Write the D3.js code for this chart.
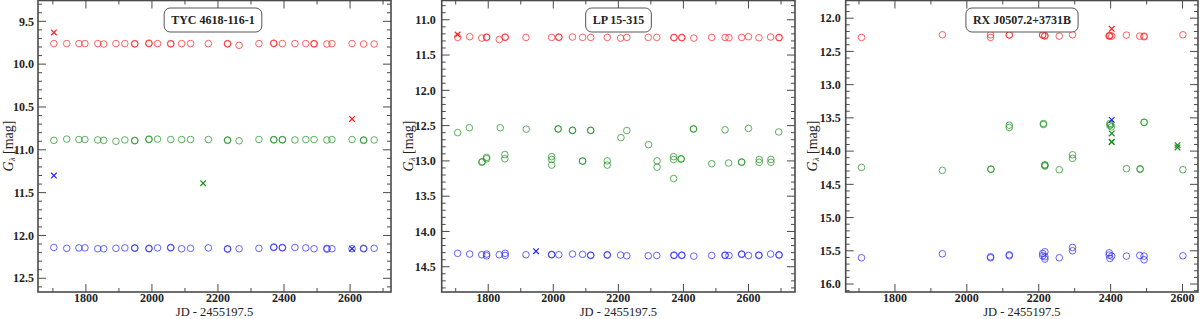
<!DOCTYPE html>
<html>
<head>
<meta charset="utf-8">
<script src="https://cdn.jsdelivr.net/npm/d3@7"></script>
<style>
  body { margin: 0; background: #fff; }
  svg { display: block; font-family: "Liberation Serif", "DejaVu Serif", serif; }
</style>
</head>
<body>
<div id="chart"></div>
<script>
// ---- data: [JD - 2455197.5, G mag] ----
const tycRed = [[1703,9.76],[1742,9.76],[1779,9.76],[1797,9.76],[1836,9.76],[1854,9.765],[1891,9.76],[1918,9.76],[1948,9.765],[1948,9.76],[1991,9.76],[1991,9.755],[2017,9.76],[2057,9.76],[2057,9.765],[2090,9.76],[2117,9.76],[2171,9.76],[2229,9.76],[2229,9.765],[2264,9.78],[2324,9.76],[2369,9.76],[2369,9.755],[2395,9.76],[2433,9.76],[2466,9.76],[2491,9.76],[2491,9.765],[2530,9.765],[2545,9.76],[2606,9.76],[2641,9.765],[2673,9.765]]
const tycGreen = [[1703,10.89],[1742,10.875],[1779,10.88],[1797,10.88],[1836,10.885],[1854,10.89],[1891,10.9],[1918,10.885],[1948,10.89],[1948,10.895],[1991,10.875],[1991,10.88],[2017,10.875],[2057,10.88],[2090,10.88],[2117,10.88],[2171,10.88],[2229,10.885],[2229,10.89],[2264,10.895],[2324,10.88],[2369,10.885],[2369,10.88],[2395,10.885],[2395,10.88],[2433,10.885],[2466,10.88],[2491,10.88],[2530,10.885],[2545,10.88],[2606,10.88],[2641,10.885],[2641,10.89],[2673,10.885]]
const tycBlue = [[1703,12.14],[1742,12.15],[1779,12.145],[1797,12.145],[1836,12.155],[1854,12.155],[1891,12.15],[1918,12.145],[1948,12.145],[1948,12.15],[1991,12.15],[1991,12.155],[2017,12.145],[2057,12.14],[2057,12.145],[2090,12.155],[2117,12.15],[2171,12.145],[2229,12.155],[2229,12.16],[2264,12.155],[2324,12.15],[2369,12.14],[2369,12.135],[2395,12.145],[2395,12.14],[2433,12.14],[2466,12.145],[2491,12.155],[2530,12.16],[2530,12.15],[2545,12.155],[2606,12.155],[2641,12.155],[2641,12.15],[2673,12.15]]
const tycRedX = [[1703,9.63],[2606,10.64]]
const tycGreenX = [[2155,11.39]]
const tycBlueX = [[1703,11.3],[2606,12.155]]

const lpRed = [[1706,11.25],[1743,11.24],[1780,11.26],[1795,11.25],[1795,11.245],[1834,11.28],[1852,11.25],[1852,11.245],[1916,11.25],[1995,11.25],[2017,11.25],[2017,11.245],[2059,11.245],[2090,11.25],[2115,11.25],[2166,11.25],[2207,11.26],[2226,11.25],[2292,11.25],[2318,11.25],[2371,11.25],[2371,11.255],[2395,11.25],[2395,11.255],[2432,11.26],[2487,11.25],[2528,11.25],[2540,11.255],[2579,11.25],[2600,11.24],[2632,11.255],[2668,11.245],[2694,11.25],[2694,11.255]]
const lpGreen = [[1706,12.6],[1742,12.53],[1780,13.02],[1782,13.01],[1795,12.95],[1795,12.97],[1837,12.53],[1851,12.91],[1851,12.97],[1917,12.55],[1995,12.94],[1995,12.98],[1995,13.06],[2015,12.55],[2015,12.545],[2059,12.57],[2059,12.565],[2090,13.0],[2090,13.005],[2115,12.57],[2115,12.565],[2166,13.0],[2166,13.06],[2208,12.67],[2226,12.57],[2293,12.77],[2319,13.0],[2319,13.09],[2370,12.94],[2370,12.98],[2370,13.25],[2393,12.97],[2393,12.975],[2431,12.55],[2431,12.545],[2487,13.04],[2528,12.56],[2539,13.03],[2579,13.02],[2579,13.015],[2600,12.54],[2633,12.98],[2633,13.02],[2669,12.98],[2669,13.02],[2693,12.59]]
const lpBlue = [[1706,14.31],[1743,14.32],[1780,14.33],[1795,14.32],[1795,14.345],[1834,14.33],[1852,14.31],[1852,14.34],[1916,14.33],[1995,14.325],[1995,14.33],[2017,14.33],[2059,14.32],[2090,14.325],[2115,14.335],[2115,14.34],[2166,14.33],[2166,14.335],[2207,14.335],[2226,14.345],[2292,14.345],[2318,14.34],[2371,14.335],[2371,14.34],[2395,14.34],[2395,14.335],[2432,14.35],[2487,14.34],[2528,14.335],[2528,14.34],[2540,14.34],[2579,14.325],[2579,14.32],[2600,14.34],[2632,14.34],[2632,14.335],[2668,14.32],[2694,14.335],[2694,14.33]]
const lpRedX = [[1706,11.21]]
const lpBlueX = [[1947,14.28]]

const rxRed = [[1707,12.29],[1932,12.25],[2066,12.25],[2066,12.29],[2118,12.25],[2118,12.255],[2211,12.25],[2211,12.255],[2217,12.27],[2217,12.26],[2257,12.27],[2294,12.25],[2396,12.27],[2396,12.265],[2398,12.26],[2403,12.27],[2444,12.255],[2481,12.27],[2493,12.28],[2493,12.27],[2601,12.25]]
const rxGreen = [[1707,14.245],[1932,14.29],[2067,14.275],[2067,14.27],[2118,13.61],[2118,13.645],[2213,13.585],[2213,13.6],[2217,14.205],[2217,14.225],[2217,14.215],[2257,14.28],[2294,14.055],[2294,14.11],[2398,13.585],[2398,13.615],[2402,13.635],[2400,13.6],[2444,14.265],[2482,14.265],[2482,14.275],[2493,13.565],[2493,13.57],[2601,14.28]]
const rxBlue = [[1707,15.605],[1932,15.545],[2066,15.59],[2066,15.605],[2118,15.56],[2118,15.575],[2211,15.54],[2211,15.575],[2217,15.515],[2217,15.59],[2217,15.625],[2257,15.605],[2294,15.45],[2294,15.5],[2396,15.53],[2396,15.565],[2398,15.615],[2403,15.58],[2444,15.58],[2481,15.57],[2493,15.58],[2493,15.635],[2601,15.575]]
const rxRedX = [[2403,12.16]]
const rxGreenX = [[2403,13.735],[2403,13.86],[2403,13.865],[2586,13.91],[2586,13.945]]
const rxBlueX = [[2403,13.53]]

const titles = ["TYC 4618-116-1", "LP 15-315", "RX J0507.2+3731B"]
const xTicks = [1800, 2000, 2200, 2400, 2600]
const yTicks1 = [9.5, 10.0, 10.5, 11.0, 11.5, 12.0, 12.5]
const yTicks2 = [11.0, 11.5, 12.0, 12.5, 13.0, 13.5, 14.0, 14.5]
const yTicks3 = [12.0, 12.5, 13.0, 13.5, 14.0, 14.5, 15.0, 15.5, 16.0]

const colors = { red: "#ff2020", green: "#17901b", blue: "#2424ff" }

// ---- layout ----
const W = 1200, H = 319
const panels = [
  { left: 38, right: 391, xd: [1655, 2724], yd: [9.257, 12.66], yTicks: yTicks1, labelGap: 4, yLabelX: 13, titleX: 213,
    circles: [[tycRed, "red"], [tycGreen, "green"], [tycBlue, "blue"]],
    crosses: [[tycRedX, "red"], [tycGreenX, "green"], [tycBlueX, "blue"]] },
  { left: 441.7, right: 795, xd: [1657, 2743], yd: [10.727, 14.858], yTicks: yTicks2, labelGap: 6, yLabelX: 413, titleX: 618.5,
    circles: [[lpRed, "red"], [lpGreen, "green"], [lpBlue, "blue"]],
    crosses: [[lpRedX, "red"], [lpBlueX, "blue"]] },
  { left: 845.7, right: 1198, xd: [1663, 2643], yd: [11.734, 16.12], yTicks: yTicks3, labelGap: 5, yLabelX: 817, titleX: 1022,
    circles: [[rxRed, "red"], [rxGreen, "green"], [rxBlue, "blue"]],
    crosses: [[rxRedX, "red"], [rxGreenX, "green"], [rxBlueX, "blue"]] }
]
const plotTop = 0.5, plotBottom = 292

const svg = d3.select("#chart").append("svg")
  .attr("width", W)
  .attr("height", H)

panels.forEach((p, i) => {
  const x = d3.scaleLinear().domain(p.xd).range([p.left, p.right])
  const y = d3.scaleLinear().domain(p.yd).range([plotTop, plotBottom])
  const g = svg.append("g")

  // frame
  g.append("rect")
    .attr("x", p.left).attr("y", plotTop)
    .attr("width", p.right - p.left).attr("height", plotBottom - plotTop)
    .attr("fill", "none").attr("stroke", "#4a4a4a").attr("stroke-width", 1.6)

  // ticks (inward on all four sides)
  const xMinor = d3.range(1700, p.xd[1], 100)
  const yMinor = d3.range(Math.ceil(p.yd[0] * 10) / 10, p.yd[1], 0.1).map(v => +v.toFixed(1))
  const tickG = g.append("g").attr("stroke", "#4a4a4a").attr("stroke-width", 1)
  xMinor.forEach(v => {
    const len = xTicks.includes(v) ? 8 : 4
    tickG.append("line").attr("x1", x(v)).attr("x2", x(v)).attr("y1", plotBottom).attr("y2", plotBottom - len)
    tickG.append("line").attr("x1", x(v)).attr("x2", x(v)).attr("y1", plotTop).attr("y2", plotTop + len)
  })
  yMinor.forEach(v => {
    const major = p.yTicks.some(t => Math.abs(t - v) < 1e-6)
    const len = major ? 8 : 4
    tickG.append("line").attr("x1", p.left).attr("x2", p.left + len).attr("y1", y(v)).attr("y2", y(v))
    tickG.append("line").attr("x1", p.right).attr("x2", p.right - len).attr("y1", y(v)).attr("y2", y(v))
  })

  // tick labels
  g.selectAll(".xl").data(xTicks).enter().append("text")
    .attr("x", d => x(d)).attr("y", 302)
    .attr("text-anchor", "middle")
    .attr("font-size", 12).attr("font-weight", "bold").attr("fill", "#222")
    .text(d => d)
  g.selectAll(".yl").data(p.yTicks).enter().append("text")
    .attr("x", p.left - p.labelGap).attr("y", d => y(d))
    .attr("dy", "0.35em")
    .attr("text-anchor", "end")
    .attr("font-size", 12).attr("font-weight", "bold").attr("fill", "#222")
    .text(d => d.toFixed(1))

  // axis titles
  g.append("text")
    .attr("x", (p.left + p.right) / 2).attr("y", 316)
    .attr("text-anchor", "middle")
    .attr("font-size", 12.5).attr("fill", "#222")
    .text("JD - 2455197.5")
  const yl = g.append("text")
    .attr("transform", "translate(" + p.yLabelX + ",146) rotate(-90)")
    .attr("text-anchor", "middle")
    .attr("font-size", 14).attr("fill", "#222")
  yl.append("tspan").attr("font-style", "italic").text("G")
  yl.append("tspan").attr("font-size", 9).attr("font-style", "italic").attr("dy", 2).text("λ")
  yl.append("tspan").attr("dy", -2).text(" [mag]")

  // data
  p.circles.forEach(([data, c]) => {
    g.append("g").selectAll("circle").data(data).enter().append("circle")
      .attr("cx", d => x(d[0])).attr("cy", d => y(d[1])).attr("r", 3.3)
      .attr("fill", "none").attr("stroke", colors[c]).attr("stroke-width", 1)
      .attr("stroke-opacity", 0.7)
  })
  p.crosses.forEach(([data, c]) => {
    g.append("g").selectAll("path").data(data).enter().append("path")
      .attr("d", d => {
        const cx = x(d[0]), cy = y(d[1]), s = 2.8
        return `M${cx - s},${cy - s}L${cx + s},${cy + s}M${cx - s},${cy + s}L${cx + s},${cy - s}`
      })
      .attr("stroke", colors[c]).attr("stroke-width", 1.2).attr("fill", "none")
  })

  // title box
  const tg = g.append("g")
  const tt = tg.append("text")
    .attr("x", p.titleX).attr("y", 20)
    .attr("dy", "0.35em")
    .attr("text-anchor", "middle")
    .attr("font-size", 12).attr("font-weight", "bold").attr("fill", "#222")
    .text(titles[i])
  const bb = tt.node().getBBox()
  tg.insert("rect", "text")
    .attr("x", bb.x - 7).attr("y", 8)
    .attr("width", bb.width + 14).attr("height", 24)
    .attr("rx", 6).attr("ry", 6)
    .attr("fill", "#fff").attr("stroke", "#555").attr("stroke-width", 1)
})
</script>
</body>
</html>
